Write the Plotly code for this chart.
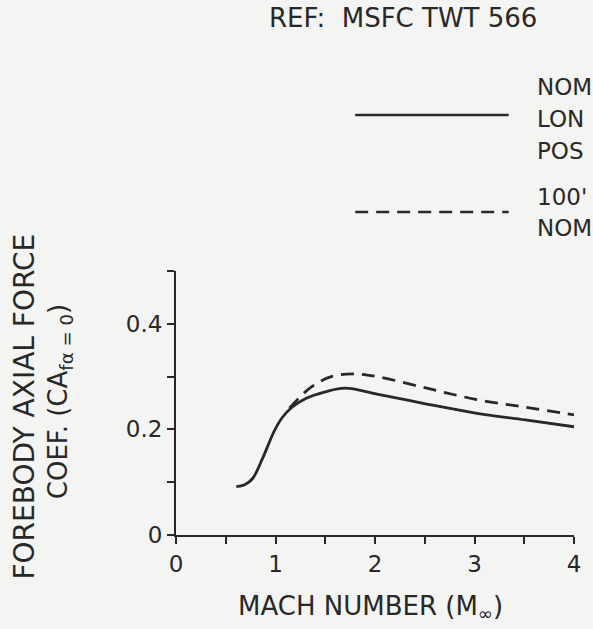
import plotly.graph_objects as go

# ---- data ----
mach_nom = [0.606, 0.69, 0.77, 0.87, 0.985, 1.07, 1.16, 1.3, 1.5, 1.7,
            2.02, 2.52, 3.01, 3.51, 4.0]
ca_nom = [0.0915, 0.095, 0.107, 0.145, 0.196, 0.223, 0.241, 0.258, 0.271, 0.278,
          0.267, 0.248, 0.231, 0.218, 0.205]

mach_aft = [1.14, 1.233, 1.365, 1.56, 1.78, 2.02, 2.52, 3.01, 3.51, 4.0]
ca_aft = [0.240, 0.259, 0.281, 0.300, 0.305, 0.300, 0.278, 0.257, 0.242, 0.2275]

x_ticks = [0, 1, 2, 3, 4]
y_ticks = [0, 0.2, 0.4]
y_tick_text = ["0", "0.2", "0.4"]

title_text = "REF:  MSFC TWT 566"
legend_nom = ["NOM", "LON", "POS"]
legend_aft = ["100'", "NOM"]
x_title = "MACH NUMBER (M<sub>∞</sub>)"
y_title1 = "FOREBODY AXIAL FORCE"
y_title2 = "COEF. (CA<sub>fα = 0</sub>)"

# ---- styling ----
INK = "#282828"
BG = "#f4f4f3"
FONT = "DejaVu Sans"
W, H = 593, 629
L, R, T, B = 176, 15, 271, 94
PW, PH = W - L - R, H - T - B


def px(x):
    return (x - L) / PW


def py(y):
    return (H - B - y) / PH


fig = go.Figure()
fig.add_trace(go.Scatter(x=mach_nom, y=ca_nom, mode="lines",
                         line=dict(color=INK, width=2.8, shape="spline", smoothing=1.0),
                         showlegend=False, hoverinfo="skip"))
fig.add_trace(go.Scatter(x=mach_aft, y=ca_aft, mode="lines",
                         line=dict(color=INK, width=2.8, shape="spline", smoothing=1.0,
                                   dash="13px,8px"),
                         showlegend=False, hoverinfo="skip"))

ann = []
ann.append(dict(text=title_text, x=px(405), y=py(18), xref="paper", yref="paper",
                showarrow=False, xanchor="center", yanchor="middle",
                font=dict(family=FONT, size=26, color=INK)))
for i, t in enumerate(legend_nom):
    ann.append(dict(text=t, x=px(539), y=py(87 + 32 * i), xref="paper", yref="paper",
                    showarrow=False, xanchor="left", yanchor="middle",
                    font=dict(family=FONT, size=23, color=INK)))
for i, t in enumerate(legend_aft):
    ann.append(dict(text=t, x=px(539), y=py(197 + 31 * i), xref="paper", yref="paper",
                    showarrow=False, xanchor="left", yanchor="middle",
                    font=dict(family=FONT, size=23, color=INK)))
ann.append(dict(text=x_title, x=px(372), y=py(607), xref="paper", yref="paper",
                showarrow=False, xanchor="center", yanchor="middle",
                font=dict(family=FONT, size=26, color=INK)))
ann.append(dict(text=y_title1, x=px(22), y=py(407), xref="paper", yref="paper",
                showarrow=False, xanchor="center", yanchor="middle", textangle=-90,
                font=dict(family=FONT, size=28, color=INK)))
ann.append(dict(text=y_title2, x=px(58), y=py(402), xref="paper", yref="paper",
                showarrow=False, xanchor="center", yanchor="middle", textangle=-90,
                font=dict(family=FONT, size=26, color=INK)))

shapes = [
    dict(type="line", xref="paper", yref="paper", x0=px(357), x1=px(512), y0=py(115), y1=py(115),
         line=dict(color=INK, width=2.5)),
    dict(type="line", xref="paper", yref="paper", x0=px(357), x1=px(512), y0=py(212), y1=py(212),
         line=dict(color=INK, width=2.5, dash="13px,8px")),
]

fig.update_layout(
    width=W, height=H,
    margin=dict(l=L, r=R, t=T, b=B),
    paper_bgcolor=BG, plot_bgcolor=BG,
    annotations=ann, shapes=shapes,
    xaxis=dict(range=[0, 4], tickvals=x_ticks, ticks="outside", ticklen=7, tickwidth=1.5,
               tickcolor=INK, showline=True, linecolor=INK, linewidth=2, showgrid=False,
               zeroline=False, tickfont=dict(family=FONT, size=23, color=INK),
               minor=dict(dtick=0.5, ticks="outside", ticklen=7, tickwidth=1.5, tickcolor=INK)),
    yaxis=dict(range=[0, 0.5], tickvals=y_ticks, ticktext=y_tick_text, ticks="outside",
               ticklen=7, tickwidth=1.5, tickcolor=INK, showline=True, linecolor=INK,
               linewidth=2, showgrid=False, zeroline=False,
               tickfont=dict(family=FONT, size=23, color=INK),
               minor=dict(dtick=0.1, ticks="outside", ticklen=7, tickwidth=1.5, tickcolor=INK)),
)

fig.write_html("out.html")
